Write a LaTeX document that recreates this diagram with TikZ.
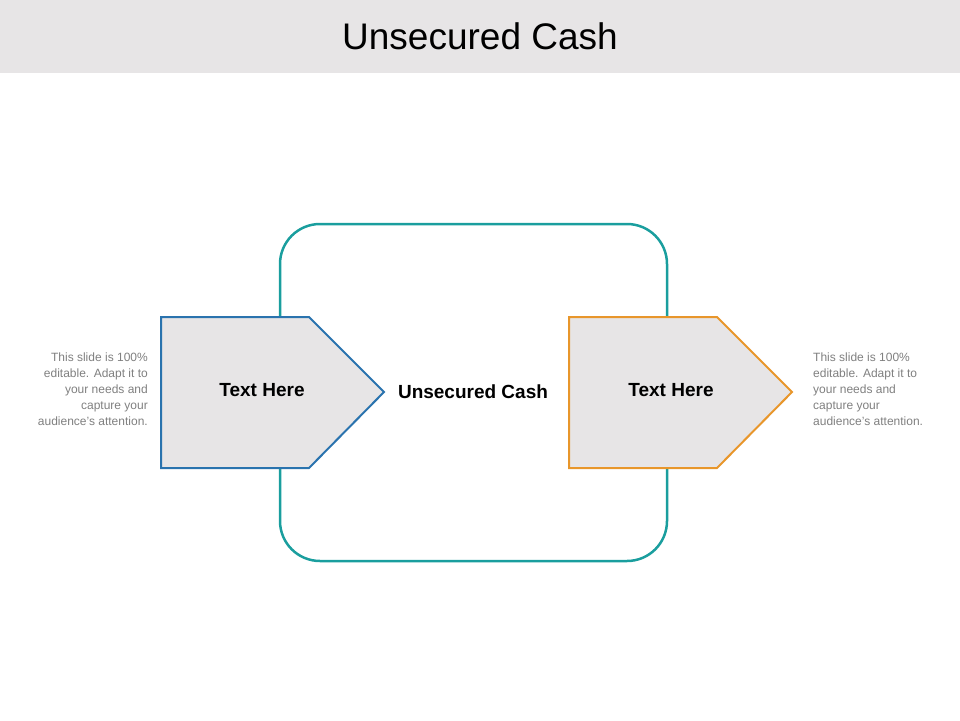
\documentclass[tikz,border=0pt]{standalone}
\usepackage{fontspec}
\setmainfont{Liberation Sans}
\usepackage{tikz}
\usetikzlibrary{positioning}
\definecolor{bargray}{HTML}{E7E5E6}
\definecolor{loopteal}{HTML}{1A9E9E}
\definecolor{leftblue}{HTML}{2A73AE}
\definecolor{rightorange}{HTML}{E8962B}
\definecolor{notegray}{HTML}{7F7F7F}
\tikzset{
  arrowbox/.style={line width=2pt, fill=bargray, line join=miter},
  boxlabel/.style={font=\bfseries\fontsize{19}{22}\selectfont},
  note/.style={text=notegray, font=\fontsize{12}{16}\selectfont, inner sep=0pt}
}
\begin{document}
\begin{tikzpicture}[x=1pt,y=-1pt]
\useasboundingbox (0,0) rectangle (960,720);
% Title bar
\fill[bargray] (0,0) rectangle (960,73);
\node (title) at (480,36) {\fontsize{37}{42}\selectfont Unsecured Cash};

% Loop
\draw[loopteal, line width=2.5pt, rounded corners=40pt] (280,224) rectangle (667,561);

% Left arrow
\draw[leftblue, arrowbox] (161,317) -- (309,317) -- (384,392) -- (309,468) -- (161,468) -- cycle;
\node[boxlabel] (lefttext) at (262,390) {Text Here};

% Right arrow
\draw[rightorange, arrowbox] (569,317) -- (717,317) -- (792,392) -- (717,468) -- (569,468) -- cycle;
\node[boxlabel] (righttext) at (671,390) {Text Here};

% Center
\node[boxlabel] (center) at (473,392) {Unsecured Cash};

% Notes
\node[note, anchor=east, align=right] (leftnote) at (148,389) {This slide is 100\%\\ editable. Adapt it to\\ your needs and\\ capture your\\ audience's attention.};
\node[note, anchor=west, align=left] (rightnote) at (813,389) {This slide is 100\%\\ editable. Adapt it to\\ your needs and\\ capture your\\ audience's attention.};
\end{tikzpicture}
\end{document}
